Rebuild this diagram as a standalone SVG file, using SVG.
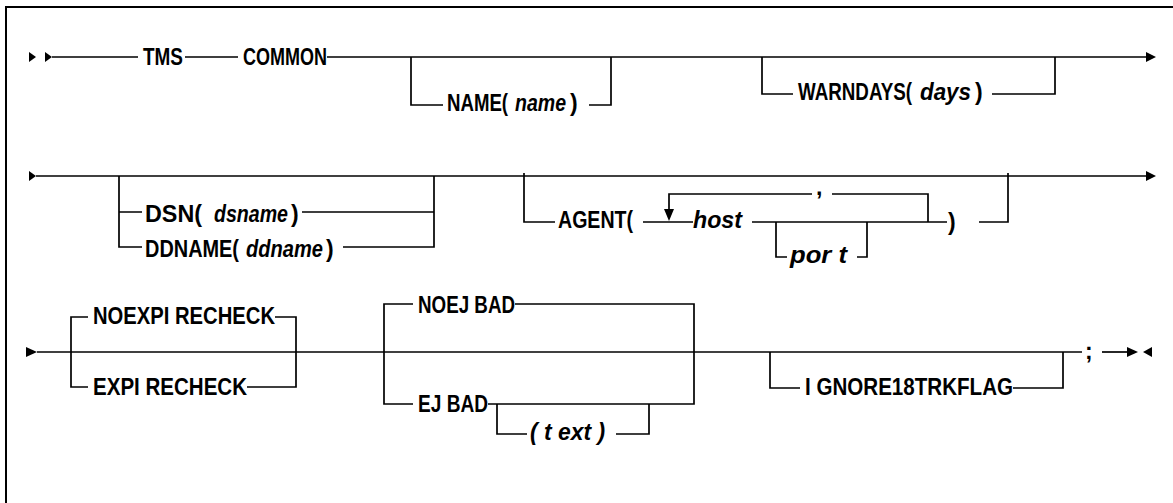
<svg xmlns="http://www.w3.org/2000/svg" width="1173" height="503" viewBox="0 0 1173 503">
<style>
.ln{fill:none;stroke:#000;stroke-width:1.7}
.ah{fill:#000;stroke:none}
.t{font-family:"Liberation Sans",Arial,sans-serif;font-weight:bold;font-size:23px;fill:#000}
.i{font-style:italic}
</style>
<rect x="0" y="0" width="1173" height="503" fill="#fff"/>
<path d="M6,503 V7 H1173" fill="none" stroke="#000" stroke-width="2"/>
<g id="connectors">
<polygon class="ah" points="29,52 36,57 29,62"/>
<polygon class="ah" points="45,52 52,57 45,62"/>
<path class="ln" d="M52,57 H138 M185,57 H238 M327,57 H1147"/>
<polygon class="ah" points="1146,52 1156,57 1146,62"/>
<path class="ln" d="M411,57 V105 H443 M589,105 H611 V57"/>
<path class="ln" d="M762,57 V94 H793 M992,94 H1055 V57"/>
<polygon class="ah" points="29,171 36,176 29,181"/>
<path class="ln" d="M36,176 H1147"/>
<polygon class="ah" points="1146,171 1156,176 1146,181"/>
<path class="ln" d="M119,176 V247 H142 M119,212 H142 M302,212 H434 M343,247 H434 V176"/>
<path class="ln" d="M524,173 V222 H555 M643,222 H693 M669,210 V194 H812 M832,194 H928 V222 M752,222 H947 M979,222 H1008 V173"/>
<polygon class="ah" points="664,209 674,209 669,221"/>
<path class="ln" d="M776,222 V257 H787 M857,257 H867 V222"/>
<polygon class="ah" points="26,347 37,352 26,357"/>
<path class="ln" d="M37,352 H1082"/>
<path class="ln" d="M88,317 H71 V387 H88 M275,317 H296 V387 H247"/>
<path class="ln" d="M413,304 H384 V404 H413 M515,304 H694 V404 H488"/>
<path class="ln" d="M497,404 V434 H527 M616,434 H649 V404"/>
<path class="ln" d="M770,352 V388 H800 M1013,388 H1063 V352"/>
<path class="ln" d="M1102,352 H1127"/>
<polygon class="ah" points="1127,347 1138,352 1127,357"/>
<polygon class="ah" points="1152,347 1143,352 1152,357"/>
</g>
<g id="tms"><text class="t" x="143" y="65" textLength="40" lengthAdjust="spacingAndGlyphs">TMS</text></g>
<g id="common"><text class="t" x="243" y="65" textLength="84" lengthAdjust="spacingAndGlyphs">COMMON</text></g>
<g id="name">
<text class="t" x="447" y="111" textLength="61" lengthAdjust="spacingAndGlyphs">NAME(</text>
<text class="t i" x="515" y="111" textLength="51" lengthAdjust="spacingAndGlyphs">name</text>
<text class="t" x="570" y="111">)</text>
</g>
<g id="warndays">
<text class="t" x="798" y="100" textLength="114" lengthAdjust="spacingAndGlyphs">WARNDAYS(</text>
<text class="t i" x="920" y="100" textLength="51" lengthAdjust="spacingAndGlyphs">days</text>
<text class="t" x="975" y="100">)</text>
</g>
<g id="dsn">
<text class="t" x="145" y="222" textLength="57" lengthAdjust="spacingAndGlyphs">DSN(</text>
<text class="t i" x="214" y="222" textLength="74" lengthAdjust="spacingAndGlyphs">dsname</text>
<text class="t" x="291" y="222">)</text>
</g>
<g id="ddname">
<text class="t" x="145" y="257" textLength="94" lengthAdjust="spacingAndGlyphs">DDNAME(</text>
<text class="t i" x="246" y="257" textLength="77" lengthAdjust="spacingAndGlyphs">ddname</text>
<text class="t" x="326" y="257">)</text>
</g>
<g id="agent"><text class="t" x="558" y="228" textLength="75" lengthAdjust="spacingAndGlyphs">AGENT(</text></g>
<g id="host"><text class="t i" x="693" y="228" textLength="49" lengthAdjust="spacingAndGlyphs">host</text></g>
<g id="comma"><text class="t" x="816" y="195">,</text></g>
<g id="port"><text class="t i" x="790" y="263" textLength="57" lengthAdjust="spacingAndGlyphs">por t</text></g>
<g id="rparen"><text class="t" x="948" y="230">)</text></g>
<g id="noexpirecheck"><text class="t" x="93" y="324" textLength="182" lengthAdjust="spacingAndGlyphs">NOEXPI RECHECK</text></g>
<g id="expirecheck"><text class="t" x="93" y="395" textLength="154" lengthAdjust="spacingAndGlyphs">EXPI RECHECK</text></g>
<g id="noejbad"><text class="t" x="418" y="313" textLength="97" lengthAdjust="spacingAndGlyphs">NOEJ BAD</text></g>
<g id="ejbad"><text class="t" x="418" y="412" textLength="70" lengthAdjust="spacingAndGlyphs">EJ BAD</text></g>
<g id="text"><text class="t i" x="530" y="440" textLength="75" lengthAdjust="spacingAndGlyphs">( t ext )</text></g>
<g id="ignore18trkflag"><text class="t" x="805" y="395" textLength="208" lengthAdjust="spacingAndGlyphs">I GNORE18TRKFLAG</text></g>
<g id="semicolon"><text class="t" x="1085" y="359">;</text></g>
</svg>
